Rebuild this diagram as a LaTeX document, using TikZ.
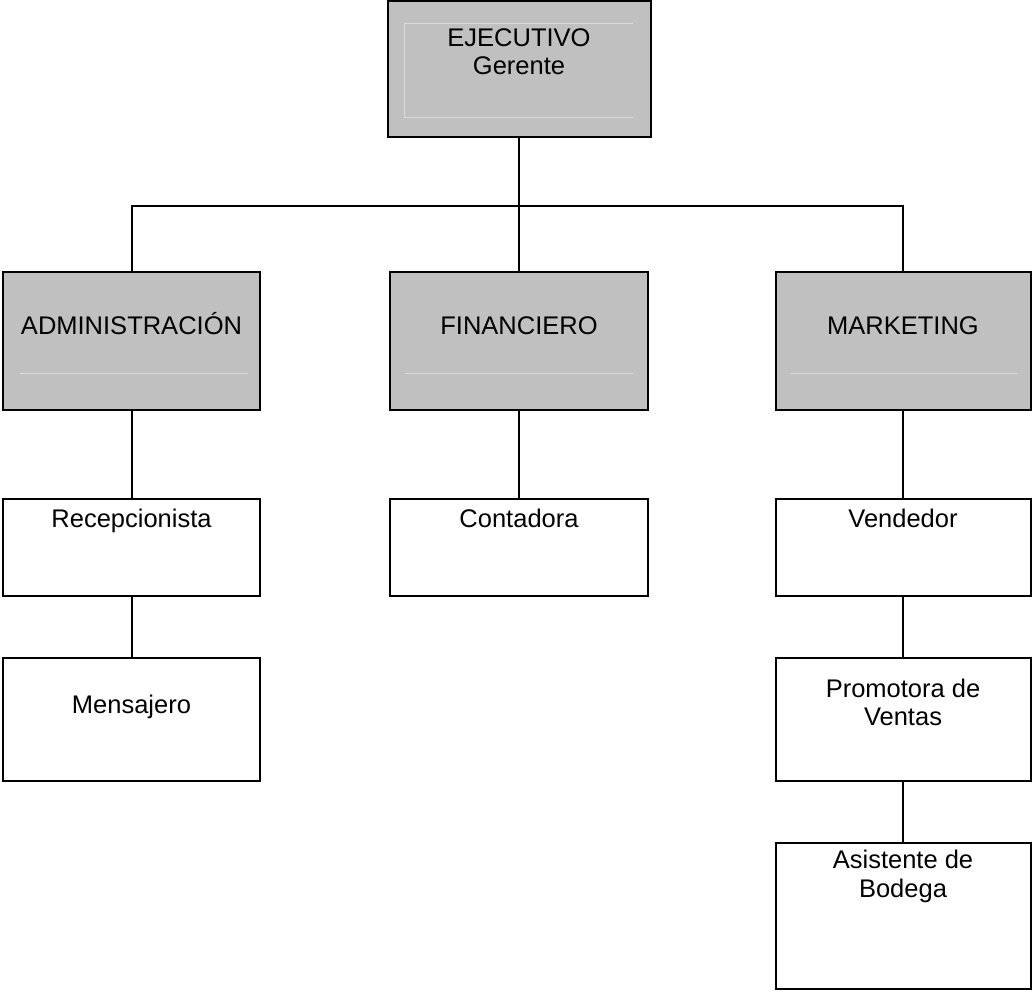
\documentclass[tikz,border=0pt]{standalone}
\usepackage{fontspec}
\setmainfont{Liberation Sans}
\definecolor{boxgray}{RGB}{192,192,192}
\definecolor{faint}{RGB}{218,218,218}
\begin{document}
\begin{tikzpicture}[x=1pt,y=1pt,
  orgbox/.style={draw=black, line width=2pt, rectangle, inner sep=0pt},
  graybox/.style={orgbox, fill=boxgray},
  txt/.style={inner sep=0pt, anchor=base, font=\fontsize{25.5}{28}\selectfont},
  conn/.style={draw=black, line width=2pt},
  faintline/.style={draw=faint, line width=0.8pt}]
\useasboundingbox (0,0) rectangle (1032,991);
% boxes (centres, sizes from pixel corners)
\node[graybox, minimum width=263pt, minimum height=136pt] (top) at (519,922) {};
\node[graybox, minimum width=257pt, minimum height=138pt] (admin) at (131.5,650) {};
\node[graybox, minimum width=258pt, minimum height=138pt] (fin) at (519,650) {};
\node[graybox, minimum width=255pt, minimum height=138pt] (mark) at (903,650) {};
\node[orgbox, minimum width=257pt, minimum height=97pt] (recep) at (131.5,443.5) {};
\node[orgbox, minimum width=258pt, minimum height=97pt] (cont) at (519,443.5) {};
\node[orgbox, minimum width=255pt, minimum height=97pt] (vend) at (903,443.5) {};
\node[orgbox, minimum width=257pt, minimum height=123pt] (mens) at (131.5,271.5) {};
\node[orgbox, minimum width=255pt, minimum height=123pt] (prom) at (903,271.5) {};
\node[orgbox, minimum width=255pt, minimum height=146pt] (asist) at (903,75) {};
% faint inner lines of the gray boxes
\draw[faintline] (404,968) -- (633,968);
\draw[faintline] (404,874) -- (633,874);
\draw[faintline] (404,968) -- (404,874);
\draw[faintline] (20,618) -- (248,618);
\draw[faintline] (405,618) -- (633,618);
\draw[faintline] (790,618) -- (1018,618);
% texts
\node[txt] (t1) at (top.center |- 0,944) {EJECUTIVO};
\node[txt] (t2) at (top.center |- 0,916) {Gerente};
\node[txt] (t3) at (admin.center |- 0,656) {ADMINISTRACIÓN};
\node[txt] (t4) at (fin.center |- 0,656) {FINANCIERO};
\node[txt] (t5) at (mark.center |- 0,656) {MARKETING};
\node[txt] (t6) at (recep.center |- 0,463) {Recepcionista};
\node[txt] (t7) at (cont.center |- 0,463) {Contadora};
\node[txt] (t8) at (vend.center |- 0,463) {Vendedor};
\node[txt] (t9) at (mens.center |- 0,278) {Mensajero};
\node[txt] (t10) at (prom.center |- 0,294) {Promotora de};
\node[txt] (t11) at (prom.center |- 0,266) {Ventas};
\node[txt] (t12) at (asist.center |- 0,123) {Asistente de};
\node[txt] (t13) at (asist.center |- 0,94) {Bodega};
% connectors
\coordinate (bus) at (top.south |- 0,785);
\draw[conn] (top.south) -- (bus);
\draw[conn] (admin.north) |- (bus) -| (mark.north);
\draw[conn] (bus) -- (fin.north);
\draw[conn] (admin.south) -- (recep.north);
\draw[conn] (recep.south) -- (mens.north);
\draw[conn] (fin.south) -- (cont.north);
\draw[conn] (mark.south) -- (vend.north);
\draw[conn] (vend.south) -- (prom.north);
\draw[conn] (prom.south) -- (asist.north);
\end{tikzpicture}
\end{document}
